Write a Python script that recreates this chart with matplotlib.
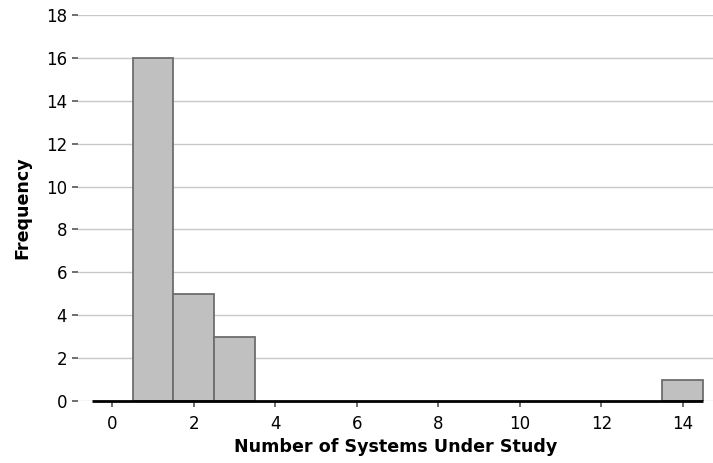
import numpy as np
import matplotlib.pyplot as plt

# histogram counts, one bin per integer value
systems = [1, 2, 3, 14]
frequency = [16, 5, 3, 1]
xticks = [0, 2, 4, 6, 8, 10, 12, 14]
yticks = [0, 2, 4, 6, 8, 10, 12, 14, 16, 18]

plt.rcParams['font.family'] = ['DejaVu Sans']

fig = plt.figure(figsize=(7.13, 4.63), dpi=100)
ax = fig.add_axes([78/713, 62/463, 1 - 78/713, (401 - 15)/463])

ax.set_xlim(-0.84, 14.74)
ax.set_ylim(0, 18)

# light grid behind everything
for y in yticks:
    ax.axhline(y, color='#c8c8c8', lw=1, zorder=0)

ax.bar(systems, frequency, width=1.0, color='#c0c0c0', edgecolor='#6e6e6e',
       linewidth=1.3, zorder=2)

# dark baseline covering the histogram range
ax.plot([-0.5, 14.5], [0, 0], color='black', lw=2, zorder=3, clip_on=False,
        solid_capstyle='butt')

for s in ax.spines.values():
    s.set_visible(False)

ax.set_xticks(xticks)
ax.set_yticks(yticks)
ax.tick_params(axis='both', labelsize=12, color='#555555', length=4, width=1.2,
               pad=4)
ax.tick_params(axis='x', pad=6)

ax.set_xlabel('Number of Systems Under Study', fontsize=12.6, fontweight='bold',
              labelpad=4)
ax.set_ylabel('Frequency', fontsize=12.6, fontweight='bold', labelpad=10)

fig.savefig('out.png', dpi=100)
